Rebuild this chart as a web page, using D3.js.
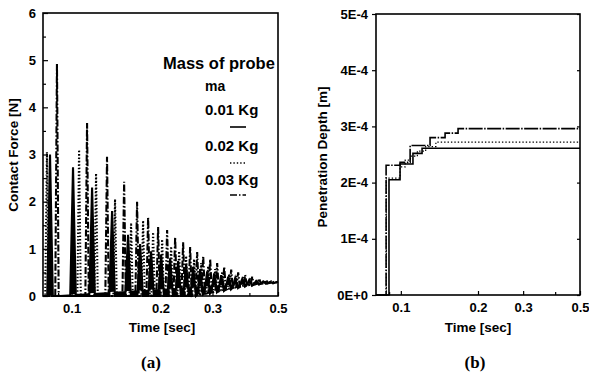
<!DOCTYPE html>
<html>
<head>
<meta charset="utf-8">
<script src="https://cdn.jsdelivr.net/npm/d3@7"></script>
<style>
  body { margin: 0; background: #fff; }
  text { font-family: "Liberation Sans", Arial, sans-serif; font-weight: bold; fill: #000; }
  .cap { font-family: "Liberation Serif", "Times New Roman", serif; font-size: 17px; }
  .tick line { stroke: #000; stroke-width: 1.2; }
  .tick text { font-size: 13px; }
  .domain { display: none; }
</style>
</head>
<body>
<svg id="chart" width="589" height="375"></svg>
<script>
// ---- data ----
const timeTicks = [0.1, 0.2, 0.3, 0.5];
const timeMinor = [0.09, 0.4];
const forceTicks = [0, 1, 2, 3, 4, 5, 6];
const forceMinor = [0.5, 1.5, 2.5, 3.5, 4.5, 5.5];
const depthTicks = [0, 1e-4, 2e-4, 3e-4, 4e-4, 5e-4];
const depthLabels = ['0E+0', '1E-4', '2E-4', '3E-4', '4E-4', '5E-4'];
const masses = ['0.01 Kg', '0.02 Kg', '0.03 Kg'];

// (a) contact force: impact times [s], peak force [N], force between impacts [N]
const lightT = [0.0845, 0.1011, 0.1173, 0.1371, 0.1553, 0.1706, 0.1858, 0.201, 0.2156, 0.2295, 0.2442, 0.258,
  0.2725, 0.2878, 0.3039, 0.321, 0.3391, 0.3581, 0.3781, 0.3994, 0.4218, 0.4455, 0.4705];
const lightPeak = [3.0, 2.73, 2.3, 1.8, 1.3, 1.1, 0.95, 0.88, 0.8, 0.74, 0.68, 0.62,
  0.57, 0.52, 0.48, 0.44, 0.41, 0.38, 0.36, 0.34, 0.32, 0.31, 0.3];
const lightLow = [0, 0, 0, 0, 0, 0, 0, 0, 0, 0, 0, 0,
  0.03, 0.05, 0.08, 0.11, 0.14, 0.17, 0.2, 0.22, 0.24, 0.26, 0.27];

const midT = [0.0825, 0.106, 0.121, 0.1403, 0.159, 0.1746, 0.1888, 0.2026, 0.2173, 0.2313, 0.2442,
  0.26, 0.2746, 0.29, 0.3063, 0.3236, 0.3418, 0.3609, 0.3811, 0.4025, 0.425, 0.449, 0.4742];
const midPeak = [3.05, 3.1, 2.6, 2.05, 1.55, 1.6, 1.35, 1.2, 1.05, 0.95, 0.85,
  0.78, 0.7, 0.63, 0.57, 0.52, 0.47, 0.43, 0.4, 0.37, 0.34, 0.32, 0.31];
const midLow = [0, 0, 0, 0, 0, 0, 0, 0, 0, 0, 0,
  0.02, 0.04, 0.06, 0.09, 0.12, 0.15, 0.18, 0.21, 0.23, 0.25, 0.27, 0.28];

const heavyT = [0.0892, 0.1128, 0.1318, 0.1506, 0.1666, 0.1816, 0.1963, 0.2106, 0.2242, 0.2386, 0.252, 0.2662,
  0.279, 0.2946, 0.3111, 0.3287, 0.3471, 0.3665, 0.387, 0.4088, 0.4317, 0.456, 0.4779];
const heavyPeak = [4.92, 3.67, 2.95, 2.42, 2.0, 1.67, 1.46, 1.4, 1.25, 1.14, 1.04, 0.93,
  0.85, 0.78, 0.7, 0.62, 0.56, 0.5, 0.45, 0.41, 0.37, 0.34, 0.32];
const heavyLow = [0, 0, 0, 0, 0, 0, 0, 0, 0, 0, 0, 0.02,
  0.04, 0.07, 0.1, 0.13, 0.16, 0.19, 0.22, 0.24, 0.26, 0.27, 0.28];
const restForce = 0.3;

// (b) penetration depth [m], step curves
const lightDT = [0.08, 0.0876, 0.0899, 0.0993, 0.1115, 0.121, 0.5];
const lightD  = [0, 0, 2.05e-4, 2.33e-4, 2.52e-4, 2.61e-4, 2.61e-4];
const midDT = [0.08, 0.0878, 0.0993, 0.104, 0.109, 0.116, 0.125, 0.137, 0.5];
const midD  = [0, 2.08e-4, 2.28e-4, 2.40e-4, 2.47e-4, 2.56e-4, 2.64e-4, 2.72e-4, 2.72e-4];
const heavyDT = [0.08, 0.0876, 0.0993, 0.1087, 0.13, 0.1488, 0.1672, 0.5];
const heavyD  = [0, 2.31e-4, 2.36e-4, 2.66e-4, 2.8e-4, 2.88e-4, 2.96e-4, 2.96e-4];

const dashes = ['none', '1.4,2', '7,2,1.5,2'];

const svg = d3.select('#chart');

// ---------- panel (a) ----------
const xa = d3.scaleLog().domain([0.08, 0.5]).range([43, 278]);
const ya = d3.scaleLinear().domain([0, 6]).range([296, 13]);

function spikes(times, peaks, lows, half) {
  let pts = [[xa.range()[0], ya(0)]];
  times.forEach((t, i) => {
    pts.push([xa(t) - half, ya(lows[i])], [xa(t), ya(peaks[i])], [xa(t) + half, ya(lows[i])]);
  });
  pts.push([xa(0.5), ya(restForce)]);
  return d3.line()(pts);
}

const forceSeries = [
  {t: lightT, p: lightPeak, l: lightLow, half: 2.8, fill: '#000'},
  {t: midT, p: midPeak, l: midLow, half: 1.7, fill: 'none'},
  {t: heavyT, p: heavyPeak, l: heavyLow, half: 1.7, fill: 'none'}
];

svg.append('g').selectAll('path')
  .data(forceSeries)
  .enter()
  .append('path')
  .attr('d', d => spikes(d.t, d.p, d.l, d.half))
  .attr('fill', d => d.fill)
  .attr('stroke', '#000')
  .attr('stroke-width', 2.1)
  .attr('stroke-dasharray', (d, i) => dashes[i]);

svg.append('g')
  .attr('transform', 'translate(43,0)')
  .call(d3.axisLeft(ya).tickValues(forceTicks).tickFormat(d3.format('d')).tickSize(-5).tickPadding(7));
svg.append('g')
  .attr('transform', 'translate(43,0)')
  .call(d3.axisLeft(ya).tickValues(forceMinor).tickFormat('').tickSize(-3));
svg.append('g')
  .attr('transform', 'translate(0,296)')
  .call(d3.axisBottom(xa).tickValues(timeTicks).tickFormat(d3.format('.1f')).tickSize(-4).tickPadding(8));
svg.append('g')
  .attr('transform', 'translate(0,296)')
  .call(d3.axisBottom(xa).tickValues(timeMinor).tickFormat('').tickSize(-3));

svg.append('rect')
  .attr('x', 43).attr('y', 13)
  .attr('width', 278 - 43).attr('height', 296 - 13)
  .attr('fill', 'none').attr('stroke', '#000').attr('stroke-width', 1.6);

svg.append('text')
  .attr('transform', 'translate(18,155) rotate(-90)')
  .attr('text-anchor', 'middle')
  .style('font-size', '13.5px')
  .text('Contact Force [N]');
svg.append('text')
  .attr('x', 162).attr('y', 332)
  .attr('text-anchor', 'middle')
  .style('font-size', '13.5px')
  .text('Time [sec]');
svg.append('text')
  .attr('class', 'cap')
  .attr('x', 151).attr('y', 368)
  .attr('text-anchor', 'middle')
  .text('(a)');

// legend
const legend = svg.append('g');
legend.append('text').attr('x', 163).attr('y', 69).style('font-size', '16.5px').text('Mass of probe');
legend.append('text').attr('x', 205).attr('y', 91).style('font-size', '14px').text('ma');
const legendY = [115, 151, 185];
const sampleY = [127, 163, 195];
masses.forEach((m, i) => {
  legend.append('text').attr('x', 205).attr('y', legendY[i]).style('font-size', '15px').text(m);
  legend.append('line')
    .attr('x1', 230).attr('x2', 246)
    .attr('y1', sampleY[i]).attr('y2', sampleY[i])
    .attr('stroke', '#000').attr('stroke-width', 1.6)
    .attr('stroke-dasharray', dashes[i]);
});

// ---------- panel (b) ----------
const xb = d3.scaleLog().domain([0.08, 0.5]).range([376, 580]);
const yb = d3.scaleLinear().domain([0, 5e-4]).range([295, 14]);

const depthSeries = [
  {t: lightDT, d: lightD},
  {t: midDT, d: midD},
  {t: heavyDT, d: heavyD}
];
const stepLine = d3.line()
  .x(p => xb(p[0]))
  .y(p => yb(p[1]))
  .curve(d3.curveStepAfter);

svg.append('g').selectAll('path')
  .data(depthSeries)
  .enter()
  .append('path')
  .attr('d', s => stepLine(s.t.map((t, i) => [t, s.d[i]])))
  .attr('fill', 'none')
  .attr('stroke', '#000')
  .attr('stroke-width', (s, i) => i == 1 ? 1.2 : 1.6)
  .attr('stroke-dasharray', (s, i) => i == 2 ? '14,1.5,1.5,1.5' : dashes[i]);

svg.append('g')
  .attr('transform', 'translate(376,0)')
  .call(d3.axisLeft(yb).tickValues(depthTicks).tickFormat((d, i) => depthLabels[i]).tickSize(4).tickPadding(4));
svg.append('g')
  .attr('transform', 'translate(580,0)')
  .call(d3.axisLeft(yb).tickValues(depthTicks).tickFormat('').tickSize(3));
svg.append('g')
  .attr('transform', 'translate(0,295)')
  .call(d3.axisBottom(xb).tickValues(timeTicks).tickFormat(d3.format('.1f')).tickSize(-4).tickPadding(8));
svg.append('g')
  .attr('transform', 'translate(0,295)')
  .call(d3.axisBottom(xb).tickValues(timeMinor).tickFormat('').tickSize(-3));

svg.append('rect')
  .attr('x', 376).attr('y', 14)
  .attr('width', 580 - 376).attr('height', 295 - 14)
  .attr('fill', 'none').attr('stroke', '#000').attr('stroke-width', 1.6);

svg.append('text')
  .attr('transform', 'translate(327,157) rotate(-90)')
  .attr('text-anchor', 'middle')
  .style('font-size', '13.5px')
  .text('Penetration Depth [m]');
svg.append('text')
  .attr('x', 478).attr('y', 332)
  .attr('text-anchor', 'middle')
  .style('font-size', '13.5px')
  .text('Time [sec]');
svg.append('text')
  .attr('class', 'cap')
  .attr('x', 475).attr('y', 368)
  .attr('text-anchor', 'middle')
  .text('(b)');
</script>
</body>
</html>
